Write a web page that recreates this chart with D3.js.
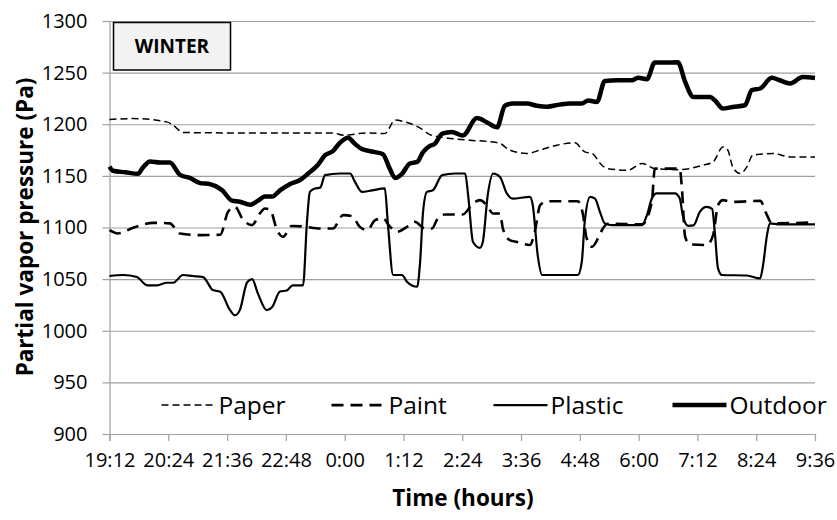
<!DOCTYPE html>
<html>
<head>
<meta charset="utf-8">
<script src="https://cdn.jsdelivr.net/npm/d3@7"></script>
<style>
  body { margin: 0; background: #fff; }
  text { font-family: "Open Sans", sans-serif; fill: #000; }
</style>
</head>
<body>
<script>
// time in decimal hours (19.2 = 19:12, 24+ = next day), value in Pa
var xTickValues = [19.2, 20.4, 21.6, 22.8, 24.0, 25.2, 26.4, 27.6, 28.8, 30.0, 31.2, 32.4, 33.6];
var xTickLabels = ["19:12", "20:24", "21:36", "22:48", "0:00", "1:12", "2:24", "3:36", "4:48", "6:00", "7:12", "8:24", "9:36"];
var yTickValues = [900, 950, 1000, 1050, 1100, 1150, 1200, 1250, 1300];

var paper = [
  [19.2, 1204.6], [19.68, 1205.5], [20.37, 1202.3], [20.5, 1199], [20.7, 1192], [21.72, 1191.6],
  [23.76, 1191.6], [23.97, 1189.4], [24.46, 1191.6], [24.82, 1191], [25.03, 1204], [25.23, 1202.3],
  [25.5, 1197.4], [25.74, 1190], [26.05, 1187], [26.56, 1184.5], [26.97, 1183], [27.17, 1181.4],
  [27.37, 1175], [27.72, 1171.7], [27.99, 1175], [28.33, 1179.7], [28.7, 1182], [28.9, 1173.3],
  [29.05, 1171.7], [29.25, 1160.3], [29.37, 1157], [29.78, 1155.5], [30.07, 1162], [30.33, 1157],
  [30.84, 1156], [31.31, 1160.3], [31.52, 1163.5], [31.72, 1178], [31.82, 1175], [31.92, 1158.7],
  [32.07, 1152.3], [32.21, 1158.7], [32.33, 1170], [32.75, 1171.7], [33.09, 1168.4], [33.6, 1168.4]
];

var paint = [
  [19.2, 1097.4], [19.37, 1094.2], [19.68, 1099.7], [20.09, 1104.5], [20.43, 1104], [20.64, 1094.2],
  [21.05, 1092.6], [21.46, 1093], [21.62, 1115.2], [21.76, 1120], [21.92, 1108], [22.11, 1102.3],
  [22.27, 1113.6], [22.37, 1118.4], [22.48, 1117], [22.62, 1097.4], [22.74, 1091], [22.92, 1101.5],
  [23.15, 1101], [23.5, 1099], [23.76, 1099], [23.97, 1112], [24.15, 1111], [24.31, 1100.6],
  [24.46, 1097.5], [24.62, 1107], [24.78, 1109], [24.92, 1101], [25.07, 1095.8], [25.27, 1100.6],
  [25.43, 1105.5], [25.64, 1099], [25.78, 1099], [25.9, 1108.8], [26.05, 1112.6], [26.41, 1112.6],
  [26.62, 1123.3], [26.76, 1126.5], [26.9, 1121.6], [27.03, 1113.6], [27.17, 1113.6], [27.23, 1099],
  [27.37, 1087.8], [27.52, 1086], [27.78, 1083], [27.88, 1095.8], [27.99, 1121.6], [28.13, 1125.4],
  [28.76, 1125.4], [28.86, 1113.6], [28.94, 1089.4], [29.05, 1081.3], [29.17, 1089.4], [29.27, 1099],
  [29.37, 1103.6], [30.07, 1103], [30.27, 1124.8], [30.33, 1157], [30.54, 1157], [30.84, 1157],
  [30.88, 1140], [30.95, 1091], [31.05, 1083.6], [31.39, 1083], [31.52, 1092.6], [31.62, 1121.6],
  [31.72, 1126.5], [31.92, 1124.8], [32.48, 1125.8], [32.62, 1112], [32.72, 1104], [33.6, 1105]
];

var plastic = [
  [19.2, 1053], [19.48, 1054], [19.76, 1052], [19.97, 1044], [20.17, 1044], [20.37, 1046.5],
  [20.5, 1046.5], [20.7, 1054], [20.9, 1053], [21.11, 1052], [21.31, 1039.4], [21.46, 1037.8],
  [21.66, 1020], [21.76, 1015], [21.86, 1020], [22.01, 1047], [22.11, 1050], [22.23, 1036],
  [22.41, 1020], [22.52, 1023], [22.68, 1038], [22.82, 1039], [22.94, 1044], [23.15, 1044],
  [23.23, 1105], [23.29, 1134.5], [23.39, 1137.8], [23.5, 1138.6], [23.6, 1150.7], [23.9, 1152.3],
  [24.11, 1152.3], [24.21, 1144.2], [24.35, 1134.5], [24.56, 1136], [24.82, 1137.8], [24.88, 1105],
  [24.99, 1054], [25.17, 1054], [25.27, 1047.5], [25.48, 1042.6], [25.54, 1066.8], [25.6, 1115.2],
  [25.68, 1134.5], [25.8, 1136], [25.99, 1150.7], [26.25, 1152.3], [26.46, 1152.3], [26.52, 1131.3],
  [26.62, 1086], [26.76, 1080.3], [26.82, 1086], [26.92, 1131.3], [27.03, 1152.3], [27.17, 1149],
  [27.31, 1133], [27.43, 1128], [27.78, 1129.7], [27.84, 1121.6], [27.94, 1073.3], [28.03, 1054],
  [28.76, 1054], [28.84, 1066.8], [28.9, 1105.5], [29.01, 1129.7], [29.11, 1128], [29.21, 1115.2],
  [29.31, 1104], [29.46, 1102.3], [30.07, 1102.3], [30.17, 1112], [30.27, 1128], [30.37, 1133],
  [30.74, 1133], [30.84, 1128], [30.9, 1112], [31.01, 1101.6], [31.12, 1102], [31.25, 1115.2],
  [31.39, 1120], [31.5, 1118], [31.56, 1092.6], [31.62, 1060.4], [31.7, 1054], [32.21, 1053.5],
  [32.48, 1050.7], [32.54, 1063.6], [32.62, 1092.6], [32.68, 1104], [32.88, 1103], [33.6, 1103]
];

var outdoor = [
  [19.2, 1159], [19.27, 1155], [19.52, 1153.5], [19.78, 1152], [19.88, 1158], [20.03, 1164],
  [20.23, 1163], [20.43, 1163], [20.64, 1151], [20.84, 1148], [21.05, 1143], [21.25, 1142],
  [21.5, 1136], [21.7, 1126], [21.86, 1125], [22.07, 1122], [22.23, 1126], [22.37, 1130],
  [22.52, 1130], [22.68, 1136], [22.88, 1142], [23.09, 1146], [23.25, 1152], [23.46, 1161],
  [23.6, 1170], [23.76, 1174], [23.9, 1182], [24.07, 1187], [24.21, 1181], [24.35, 1176],
  [24.62, 1173], [24.78, 1171], [24.92, 1157], [25.03, 1148], [25.17, 1152], [25.33, 1162],
  [25.48, 1163.5], [25.6, 1173], [25.74, 1179], [25.84, 1181], [25.99, 1191], [26.19, 1192.6],
  [26.41, 1189], [26.7, 1206], [26.9, 1202], [27.11, 1197], [27.27, 1218], [27.43, 1220],
  [27.72, 1220], [27.92, 1218], [28.13, 1217], [28.39, 1219], [28.6, 1220], [28.84, 1220],
  [28.97, 1223], [29.15, 1221.6], [29.31, 1242], [29.58, 1242.6], [29.86, 1242.6], [29.99, 1245],
  [30.17, 1243.6], [30.33, 1259.7], [30.54, 1259.7], [30.8, 1260], [30.95, 1241], [31.12, 1226.4],
  [31.46, 1226.4], [31.56, 1223], [31.72, 1215.2], [31.92, 1216.8], [32.17, 1218.4], [32.31, 1233],
  [32.48, 1234.6], [32.72, 1245], [32.88, 1242.6], [33.09, 1239.4], [33.35, 1245.8], [33.6, 1244.8]
];

var seriesNames = ["Paper", "Paint", "Plastic", "Outdoor"];

// Define SVG area dimensions
var svgWidth = 837;
var svgHeight = 520;

var margin = { top: 21, right: 22, bottom: 86, left: 109.5 };

var chartWidth = svgWidth - margin.left - margin.right;
var chartHeight = svgHeight - margin.top - margin.bottom;

var svg = d3.select("body")
  .append("svg")
  .attr("width", svgWidth)
  .attr("height", svgHeight);

var chartGroup = svg.append("g")
  .attr("transform", `translate(${margin.left}, ${margin.top})`);

// scales
var xLinearScale = d3.scaleLinear()
  .domain([19.2, 33.6])
  .range([0, chartWidth]);
var yLinearScale = d3.scaleLinear()
  .domain([900, 1300])
  .range([chartHeight, 0]);

var gridColor = "#a0a0a0";

// horizontal gridlines
var grid = chartGroup.append("g")
  .call(d3.axisLeft(yLinearScale).tickValues(yTickValues).tickSize(-chartWidth).tickFormat(""));
grid.select(".domain").remove();
grid.selectAll("line").attr("stroke", gridColor).attr("stroke-width", 1.2);

// x axis (ticks hang below the 900 line)
var xAxis = chartGroup.append("g")
  .attr("transform", `translate(0, ${chartHeight})`)
  .call(d3.axisBottom(xLinearScale)
    .tickValues(xTickValues)
    .tickSize(7)
    .tickPadding(12)
    .tickFormat((d, i) => xTickLabels[i]));
xAxis.select(".domain").remove();
xAxis.selectAll("line").attr("stroke", gridColor).attr("stroke-width", 1.2);
xAxis.selectAll("text").style("font-size", "20px").attr("fill", "#000");

// y axis
var yAxis = chartGroup.append("g")
  .call(d3.axisLeft(yLinearScale)
    .tickValues(yTickValues)
    .tickSize(7)
    .tickSizeOuter(0)
    .tickPadding(15)
    .tickFormat(d3.format("d")));
yAxis.select(".domain").attr("stroke", gridColor).attr("stroke-width", 1.2)
  .attr("d", `M0.5,0V${chartHeight + 7}`);
yAxis.selectAll("line").attr("stroke", gridColor).attr("stroke-width", 1.2);
yAxis.selectAll("text").style("font-size", "20px").attr("fill", "#000");

// line styles per series
var styles = {
  Paper: { width: 1.5, dash: "7,4" },
  Paint: { width: 2.6, dash: "12,7" },
  Plastic: { width: 2.2, dash: null },
  Outdoor: { width: 4.5, dash: null }
};
var seriesData = { Paper: paper, Paint: paint, Plastic: plastic, Outdoor: outdoor };

var lineGen = d3.line()
  .x(d => xLinearScale(d[0]))
  .y(d => yLinearScale(d[1]))
  .curve(d3.curveMonotoneX);

seriesNames.forEach(function(name) {
  chartGroup.append("path")
    .datum(seriesData[name])
    .attr("fill", "none")
    .attr("stroke", "#000")
    .attr("stroke-width", styles[name].width)
    .attr("stroke-dasharray", styles[name].dash)
    .attr("stroke-linejoin", "round")
    .attr("d", lineGen);
});

// legend inside plot area
var legendX = [52, 222, 384, 563];
var legendY = yLinearScale(928);
seriesNames.forEach(function(name, i) {
  var g = chartGroup.append("g").attr("transform", `translate(${legendX[i]}, ${legendY})`);
  g.append("line")
    .attr("x1", 0).attr("x2", 54)
    .attr("stroke", "#000")
    .attr("stroke-width", styles[name].width)
    .attr("stroke-dasharray", styles[name].dash);
  g.append("text")
    .attr("x", 57)
    .attr("dy", "0.35em")
    .style("font-size", "24.5px")
    .text(name);
});

// WINTER box
var boxGroup = svg.append("g").attr("transform", "translate(113.5, 22.5)");
boxGroup.append("rect")
  .attr("width", 117)
  .attr("height", 47.5)
  .attr("fill", "#f2f2f2")
  .attr("stroke", "#000")
  .attr("stroke-width", 1.5);
boxGroup.append("text")
  .attr("x", 58.5)
  .attr("y", 24)
  .attr("dy", "0.35em")
  .attr("text-anchor", "middle")
  .style("font-size", "19px")
  .style("font-weight", "bold")
  .text("WINTER");

// axis titles
svg.append("text")
  .attr("transform", "rotate(-90)")
  .attr("x", -227)
  .attr("y", 33)
  .attr("text-anchor", "middle")
  .style("font-size", "22.5px")
  .style("font-weight", "bold")
  .text("Partial vapor pressure (Pa)");

svg.append("text")
  .attr("x", 463)
  .attr("y", 506)
  .attr("text-anchor", "middle")
  .style("font-size", "22.5px")
  .style("font-weight", "bold")
  .text("Time (hours)");
</script>
</body>
</html>
